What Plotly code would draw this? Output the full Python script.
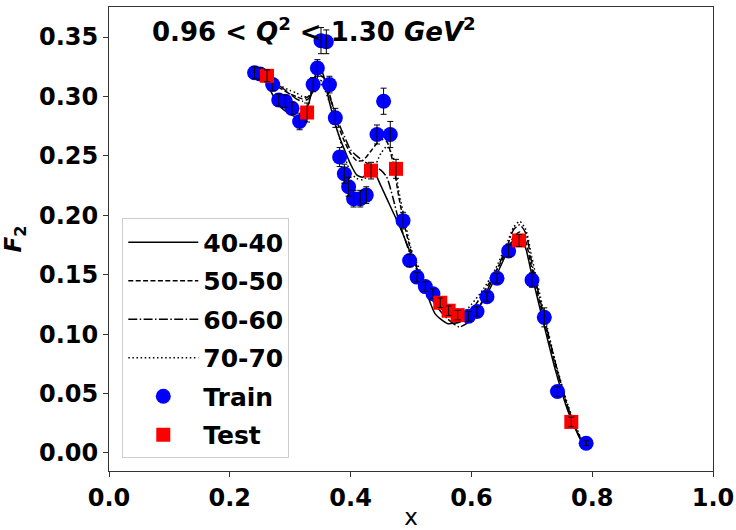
import plotly.graph_objects as go

# ---- data ----
train_x = [0.241, 0.250, 0.271, 0.281, 0.292, 0.303, 0.3156, 0.338, 0.345, 0.351, 0.3598,
           0.365, 0.3747, 0.3818, 0.3896, 0.3967, 0.405, 0.416, 0.426, 0.4437, 0.4546,
           0.4657, 0.4868, 0.4977, 0.510, 0.5237, 0.5364, 0.5954, 0.6093, 0.6258, 0.6424,
           0.6616, 0.7003, 0.7207, 0.7425, 0.790]
train_y = [0.320, 0.319, 0.310, 0.297, 0.296, 0.290, 0.279, 0.310, 0.324, 0.347, 0.346,
           0.310, 0.282, 0.249, 0.235, 0.224, 0.214, 0.214, 0.217, 0.268, 0.296,
           0.268, 0.1955, 0.162, 0.148, 0.140, 0.134, 0.115, 0.119, 0.1315, 0.147,
           0.170, 0.1455, 0.1141, 0.0517, 0.0082]
train_err = [0.005, 0.005, 0.005, 0.005, 0.005, 0.005, 0.007, 0.006, 0.007, 0.011, 0.010,
             0.007, 0.008, 0.008, 0.008, 0.008, 0.007, 0.007, 0.007, 0.008, 0.011,
             0.011, 0.007, 0.005, 0.004, 0.004, 0.004, 0.004, 0.004, 0.004, 0.004,
             0.005, 0.006, 0.008, 0.004, 0.002]

test_x = [0.2616, 0.328, 0.4338, 0.4752, 0.5485, 0.5623, 0.5772, 0.679, 0.7654]
test_y = [0.3174, 0.2865, 0.2376, 0.2391, 0.1264, 0.1197, 0.116, 0.1788, 0.0261]
test_err = [0.005, 0.008, 0.007, 0.008, 0.004, 0.004, 0.004, 0.005, 0.004]

curve_x = [0.24, 0.26, 0.28, 0.30, 0.31, 0.32, 0.33, 0.34, 0.347, 0.355, 0.365, 0.38, 0.39,
           0.40, 0.41, 0.42, 0.435, 0.45, 0.46, 0.47, 0.48, 0.49, 0.50, 0.52, 0.54, 0.56,
           0.58, 0.60, 0.62, 0.64, 0.66, 0.67, 0.68, 0.69, 0.70, 0.72, 0.74, 0.76, 0.78, 0.79]
curve_40 = [0.322, 0.312, 0.293, 0.285, 0.283, 0.285, 0.293, 0.314, 0.327, 0.318, 0.295,
            0.268, 0.255, 0.243, 0.234, 0.232, 0.240, 0.225, 0.214, 0.203, 0.192, 0.180,
            0.167, 0.143, 0.117, 0.109, 0.110, 0.116, 0.128, 0.148, 0.170, 0.180, 0.182,
            0.172, 0.150, 0.108, 0.068, 0.035, 0.012, 0.005]
curve_50 = [0.322, 0.316, 0.308, 0.302, 0.300, 0.298, 0.300, 0.308, 0.318, 0.316, 0.302,
            0.275, 0.262, 0.252, 0.246, 0.246, 0.255, 0.264, 0.262, 0.245, 0.215, 0.190,
            0.170, 0.145, 0.128, 0.117, 0.113, 0.120, 0.135, 0.152, 0.172, 0.182, 0.186,
            0.178, 0.155, 0.112, 0.072, 0.038, 0.013, 0.006]
curve_60 = [0.322, 0.317, 0.310, 0.302, 0.298, 0.296, 0.298, 0.306, 0.314, 0.312, 0.300,
            0.278, 0.266, 0.255, 0.250, 0.246, 0.242, 0.238, 0.232, 0.215, 0.195, 0.180,
            0.165, 0.143, 0.125, 0.113, 0.106, 0.112, 0.130, 0.152, 0.175, 0.188, 0.192,
            0.185, 0.160, 0.115, 0.074, 0.038, 0.012, 0.005]
curve_70 = [0.322, 0.316, 0.310, 0.305, 0.303, 0.300, 0.300, 0.305, 0.312, 0.308, 0.295,
            0.268, 0.250, 0.236, 0.231, 0.230, 0.236, 0.252, 0.258, 0.250, 0.220, 0.195,
            0.172, 0.148, 0.128, 0.117, 0.115, 0.125, 0.138, 0.155, 0.178, 0.190, 0.195,
            0.188, 0.165, 0.118, 0.075, 0.040, 0.014, 0.006]

curve_names = ["40-40", "50-50", "60-60", "70-70"]
curve_dashes = ["solid", "5px,2.4px", "9px,2.4px,1.5px,2.4px", "1.5px,2.6px"]

x_ticks = [0.0, 0.2, 0.4, 0.6, 0.8, 1.0]
y_ticks = [0.00, 0.05, 0.10, 0.15, 0.20, 0.25, 0.30, 0.35]

FONT = "DejaVu Sans"

fig = go.Figure()

for name, ys, dash in zip(curve_names, [curve_40, curve_50, curve_60, curve_70], curve_dashes):
    fig.add_trace(go.Scatter(
        x=curve_x, y=ys, mode="lines", name=name, legendgroup=name,
        line=dict(color="black", width=1.5, dash=dash, shape="spline", smoothing=0.6),
    ))

fig.add_trace(go.Scatter(
    x=train_x, y=train_y, mode="markers", name="Train", legendgroup="Train",
    marker=dict(color="#0000ff", size=15, symbol="circle", line=dict(width=0)),
))
fig.add_trace(go.Scatter(
    x=train_x, y=train_y, mode="markers", showlegend=False, hoverinfo="skip",
    marker=dict(color="rgba(0,0,0,0)", size=1),
    error_y=dict(type="data", array=train_err, color="black", thickness=1, width=3),
))
fig.add_trace(go.Scatter(
    x=test_x, y=test_y, mode="markers", name="Test", legendgroup="Test",
    marker=dict(color="#ff0000", size=14, symbol="square", line=dict(width=0)),
))
fig.add_trace(go.Scatter(
    x=test_x, y=test_y, mode="markers", showlegend=False, hoverinfo="skip",
    marker=dict(color="rgba(0,0,0,0)", size=1),
    error_y=dict(type="data", array=test_err, color="black", thickness=1, width=3),
))

axis_common = dict(
    showline=True, mirror=True, linecolor="#333333", linewidth=1, automargin=False,
    ticks="outside", ticklen=5, tickcolor="#333333", showgrid=False, zeroline=False,
    tickfont=dict(family=FONT, size=24, color="black", weight="bold"),
)

fig.update_layout(
    width=736, height=530,
    margin=dict(l=109, r=23, t=7, b=59),
    paper_bgcolor="white", plot_bgcolor="white",
    font=dict(family=FONT, color="black"),
    xaxis=dict(range=[0, 1], tickvals=x_ticks, tickformat=".1f",
               title=dict(text="x", font=dict(family=FONT, size=23), standoff=8),
               **axis_common),
    yaxis=dict(range=[-0.0152, 0.3753], tickvals=y_ticks, tickformat=".2f",
               title=dict(text="<b><i>F</i><sub>2</sub></b>", font=dict(family=FONT, size=23),
                          standoff=12),
               **axis_common),
    legend=dict(x=0.022, y=0.027, xanchor="left", yanchor="bottom",
                bgcolor="rgba(255,255,255,0.8)", bordercolor="#cccccc", borderwidth=1,
                font=dict(family=FONT, size=25, color="black", weight="bold"),
                itemwidth=70, tracegroupgap=3),
    showlegend=True,
    annotations=[dict(
        x=0.34, y=0.951, xref="paper", yref="paper", xanchor="center", yanchor="middle",
        text="<b>0.96 &lt; <i>Q</i><sup>2</sup> &lt; 1.30 <i>GeV</i><sup>2</sup></b>",
        showarrow=False, font=dict(family=FONT, size=26, color="black"),
    )],
)

fig.write_html("out.html")
